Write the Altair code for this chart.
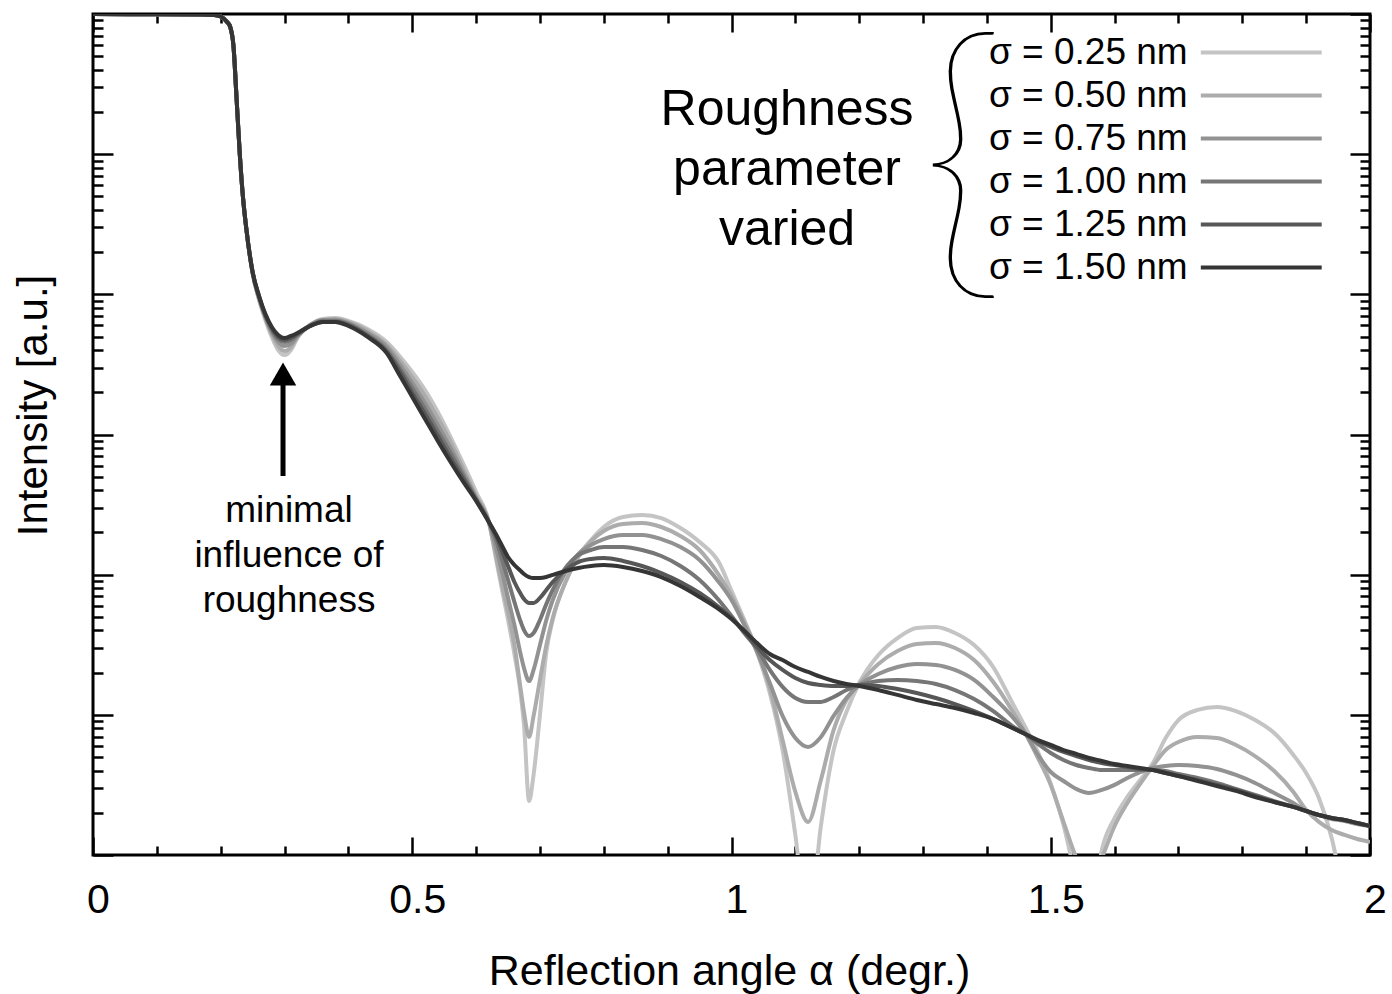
import altair as alt
import pandas as pd

# ---------------- data ----------------
angle = [0, 0.1, 0.17, 0.19, 0.2, 0.21, 0.215, 0.22, 0.225, 0.23, 0.235, 0.24,
         0.25, 0.26, 0.27, 0.28, 0.29, 0.30, 0.31, 0.32, 0.34, 0.36, 0.38, 0.40,
         0.43, 0.46, 0.48, 0.50, 0.52, 0.54, 0.56, 0.58, 0.60, 0.62,
         0.63, 0.64, 0.65, 0.66, 0.67, 0.675, 0.683, 0.69, 0.70, 0.71, 0.72, 0.74,
         0.76, 0.78, 0.80, 0.83, 0.86, 0.89, 0.92, 0.95, 0.98, 1.00, 1.02, 1.04,
         1.06, 1.08, 1.10, 1.12, 1.14, 1.16, 1.18, 1.20, 1.23, 1.26, 1.29, 1.32,
         1.35, 1.38, 1.41, 1.44, 1.46, 1.48, 1.50, 1.52, 1.54, 1.56, 1.58, 1.60,
         1.62, 1.64, 1.66, 1.68, 1.70, 1.73, 1.76, 1.79, 1.82, 1.85, 1.88, 1.90,
         1.92, 1.94, 1.96, 1.98, 2.00]

# log10 intensity, common to all roughness values (total reflection plateau and edge)
plateau = [0, -0.002, -0.004, -0.007, -0.018, -0.057, -0.093, -0.228, -0.614,
           -1.006, -1.313, -1.527]

log_I_025 = [-1.855, -2.040, -2.183, -2.304, -2.397, -2.433, -2.397, -2.312, -2.219, -2.176,
             -2.169, -2.190, -2.247, -2.340, -2.440, -2.554, -2.683, -2.839, -3.018, -3.210,
             -3.410, -3.624,
             -3.860, -4.095, -4.323, -4.566, -4.858, -5.072, -5.615, -5.429, -5.001, -4.552,
             -4.323, -4.052, -3.867, -3.753, -3.660, -3.589, -3.574, -3.596, -3.667, -3.767,
             -3.910, -4.116, -4.323, -4.552, -4.844, -5.251, -5.857, -6.535, -5.793, -5.251,
             -4.980, -4.773, -4.573, -4.452, -4.380, -4.373, -4.416, -4.502, -4.659, -4.916,
             -5.087, -5.265, -5.493, -5.786, -6.178, -6.535, -5.964, -5.736, -5.586, -5.465,
             -5.344, -5.165, -5.037, -4.965, -4.944, -4.973, -5.037, -5.130, -5.286, -5.415,
             -5.593, -5.879, -6.321, -6.749, -7.177]

log_I_050 = [-1.848, -2.033, -2.169, -2.283, -2.369, -2.404, -2.376, -2.304, -2.219, -2.183,
             -2.176, -2.197, -2.262, -2.361, -2.468, -2.590, -2.725, -2.882, -3.053, -3.246,
             -3.439, -3.624,
             -3.838, -4.060, -4.266, -4.502, -4.823, -4.980, -5.158, -5.008, -4.751, -4.502,
             -4.309, -4.052, -3.874, -3.760, -3.688, -3.638, -3.631, -3.660, -3.724, -3.824,
             -4.002, -4.152, -4.338, -4.537, -4.809, -5.179, -5.550, -5.764, -5.465, -5.108,
             -4.894, -4.780, -4.637, -4.545, -4.495, -4.487, -4.523, -4.609, -4.766, -4.973,
             -5.130, -5.308, -5.500, -5.764, -6.021, -6.214, -6.021, -5.793, -5.629, -5.493,
             -5.365, -5.251, -5.194, -5.158, -5.165, -5.215, -5.294, -5.401, -5.550, -5.679,
             -5.764, -5.822, -5.857, -5.886, -5.907]

log_I_075 = [-1.848, -2.026, -2.162, -2.269, -2.340, -2.369, -2.354, -2.297, -2.219, -2.183,
             -2.183, -2.205, -2.276, -2.376, -2.497, -2.633, -2.775, -2.932, -3.096, -3.275,
             -3.453, -3.624,
             -3.788, -3.967, -4.166, -4.359, -4.573, -4.666, -4.759, -4.680, -4.502, -4.323,
             -4.181, -3.981, -3.853, -3.788, -3.746, -3.717, -3.717, -3.746, -3.803, -3.895,
             -4.052, -4.181, -4.359, -4.552, -4.773, -5.008, -5.165, -5.229, -5.158, -5.008,
             -4.880, -4.787, -4.709, -4.659, -4.637, -4.644, -4.680, -4.751, -4.873, -5.015,
             -5.130, -5.286, -5.408, -5.472, -5.529, -5.558, -5.536, -5.500, -5.451, -5.408,
             -5.379, -5.365, -5.358, -5.365, -5.386, -5.429, -5.486, -5.558, -5.629, -5.686,
             -5.715, -5.743, -5.757, -5.779, -5.793]

log_I_100 = [-1.841, -2.019, -2.155, -2.254, -2.319, -2.340, -2.326, -2.290, -2.226, -2.190,
             -2.190, -2.212, -2.290, -2.397, -2.526, -2.668, -2.818, -2.975, -3.132, -3.296,
             -3.460, -3.624,
             -3.738, -3.881, -4.038, -4.195, -4.338, -4.395, -4.438, -4.416, -4.323, -4.209,
             -4.109, -3.952, -3.860, -3.824, -3.803, -3.803, -3.824, -3.867, -3.938, -4.038,
             -4.181, -4.295, -4.416, -4.530, -4.680, -4.801, -4.880, -4.908, -4.908, -4.873,
             -4.823, -4.787, -4.759, -4.751, -4.759, -4.780, -4.823, -4.887, -4.973, -5.080,
             -5.137, -5.208, -5.272, -5.322, -5.358, -5.379, -5.394, -5.394, -5.394, -5.394,
             -5.394, -5.401, -5.422, -5.451, -5.486, -5.529, -5.572, -5.615, -5.657, -5.686,
             -5.715, -5.736, -5.750, -5.772, -5.793]

log_I_125 = [-1.841, -2.012, -2.147, -2.240, -2.304, -2.326, -2.312, -2.283, -2.226, -2.197,
             -2.197, -2.219, -2.297, -2.411, -2.547, -2.704, -2.854, -3.011, -3.168, -3.317,
             -3.467, -3.624,
             -3.710, -3.824, -3.938, -4.052, -4.138, -4.174, -4.202, -4.202, -4.166, -4.109,
             -4.052, -3.967, -3.910, -3.888, -3.881, -3.902, -3.938, -3.988, -4.052, -4.131,
             -4.231, -4.309, -4.409, -4.516, -4.609, -4.680, -4.737, -4.773, -4.787, -4.794,
             -4.794, -4.787, -4.794, -4.816, -4.844, -4.880, -4.923, -4.973, -5.030, -5.094,
             -5.137, -5.187, -5.229, -5.265, -5.294, -5.322, -5.344, -5.358, -5.372, -5.386,
             -5.394, -5.415, -5.436, -5.465, -5.500, -5.536, -5.579, -5.622, -5.657, -5.686,
             -5.715, -5.736, -5.750, -5.772, -5.793]

log_I_150 = [-1.841, -2.012, -2.140, -2.233, -2.290, -2.312, -2.297, -2.276, -2.226, -2.197,
             -2.197, -2.226, -2.304, -2.419, -2.575, -2.732, -2.889, -3.046, -3.196, -3.339,
             -3.474, -3.624,
             -3.703, -3.788, -3.874, -3.931, -3.974, -3.995, -4.017, -4.024, -4.024, -4.017,
             -4.002, -3.974, -3.952, -3.938, -3.931, -3.945, -3.974, -4.017, -4.081, -4.159,
             -4.245, -4.316, -4.400, -4.488, -4.566, -4.609, -4.659, -4.694, -4.730, -4.759,
             -4.780, -4.794, -4.823, -4.858, -4.894, -4.923, -4.951, -4.987, -5.030, -5.094,
             -5.137, -5.180, -5.215, -5.251, -5.279, -5.308, -5.329, -5.351, -5.365, -5.379,
             -5.394, -5.415, -5.436, -5.472, -5.508, -5.543, -5.586, -5.622, -5.657, -5.686,
             -5.715, -5.736, -5.750, -5.772, -5.793]

series_labels = ["σ = 0.25 nm", "σ = 0.50 nm", "σ = 0.75 nm",
                 "σ = 1.00 nm", "σ = 1.25 nm", "σ = 1.50 nm"]
series_colors = ["#c4c4c4", "#acacac", "#929292", "#767676", "#575757", "#353535"]
series_logs = [log_I_025, log_I_050, log_I_075, log_I_100, log_I_125, log_I_150]

rows = []
for lab, vals in zip(series_labels, series_logs):
    full = plateau + vals
    assert len(full) == len(angle), (lab, len(full), len(angle))
    for a, v in zip(angle, full):
        rows.append({"angle": a, "intensity": 10 ** v, "series": lab})
df = pd.DataFrame(rows)

# annotations (data coordinates; first text line is anchored)
note_main = pd.DataFrame([{"angle": 1.087, "intensity": 10 ** -0.685,
                           "text": "Roughness\nparameter\nvaried"}])
note_min = pd.DataFrame([{"angle": 0.307, "intensity": 10 ** -3.546,
                          "text": "minimal\ninfluence of\nroughness"}])
brace = pd.DataFrame([{"angle": 1.362, "intensity": 10 ** -1.106, "text": "{"}])
arrow_shaft = pd.DataFrame([{"angle": 0.2976, "top": 10 ** -2.647, "bottom": 10 ** -3.296}])
arrow_head = pd.DataFrame([{"angle": 0.2976, "intensity": 10 ** -2.568}])

# ---------------- scales / ticks ----------------
W, H = 1277, 841
FONT = "Liberation Sans"
x_scale = alt.Scale(domain=[0, 2], nice=False, zero=False)
y_scale = alt.Scale(type="log", domain=[1e-6, 1], nice=False)

x_ticks = [round(0.1 * i, 1) for i in range(21)]
x_major = "abs(datum.value*2 - round(datum.value*2)) < 0.001"
y_ticks = [float(f"{m}e{k}") for k in range(-6, 0) for m in range(1, 10)] + [1.0]
y_major = "abs(log(datum.value)/LN10 - round(log(datum.value)/LN10)) < 0.001"


def x_tick_axis(orient):
    return alt.Axis(orient=orient, offset=-H, values=x_ticks, labels=False, domain=False,
                    grid=False, title=None, tickColor="black", tickWidth=2.5,
                    tickSize={"condition": {"test": x_major, "value": 18}, "value": 9})


def y_tick_axis(orient):
    return alt.Axis(orient=orient, offset=-W, values=y_ticks, labels=False, domain=False,
                    grid=False, title=None, tickColor="black", tickWidth=2.5,
                    tickSize={"condition": {"test": y_major, "value": 20}, "value": 10})


# legend sample line drawn to the right of the label (custom symbol path)
legend_line = "M12.17,0H18.37"

lines = alt.Chart(df).mark_line(strokeWidth=4, interpolate="monotone", clip=True).encode(
    x=alt.X("angle:Q", scale=x_scale,
            axis=alt.Axis(orient="bottom", values=[0, 0.5, 1, 1.5, 2], format="~g",
                          ticks=False, tickSize=0, domain=False, grid=False,
                          labelFont=FONT, labelFontSize=41, labelColor="black",
                          labelBaseline="alphabetic", labelPadding=57, labelFlush=False,
                          labelOffset=5,
                          title="Reflection angle α (degr.)", titleFont=FONT,
                          titleFontSize=43, titleFontWeight="normal", titleColor="black",
                          titleX=636, titleY=129, titleBaseline="alphabetic")),
    y=alt.Y("intensity:Q", scale=y_scale,
            axis=alt.Axis(orient="left", labels=False, ticks=False, tickSize=0,
                          domain=False, grid=False, title="Intensity [a.u.]",
                          titleFont=FONT, titleFontSize=42, titleFontWeight="normal",
                          titleColor="black", titleAngle=270, titleX=-60, titleY=391,
                          titleBaseline="middle", titleAlign="center")),
    color=alt.Color("series:N",
                    scale=alt.Scale(domain=series_labels, range=series_colors),
                    legend=alt.Legend(title=None, orient="none", legendX=849, legendY=17,
                                      labelFont=FONT, labelFontSize=37, labelColor="black",
                                      symbolType=legend_line, symbolSize=1521,
                                      symbolStrokeWidth=4, rowPadding=3,
                                      padding=0, labelLimit=0)),
    detail="series:N",
)

text_main = alt.Chart(note_main).mark_text(
    font=FONT, fontSize=50, lineHeight=60, align="center", baseline="middle",
    color="black", lineBreak="\n").encode(
    x=alt.X("angle:Q", scale=x_scale, axis=x_tick_axis("top")),
    y=alt.Y("intensity:Q", scale=y_scale, axis=y_tick_axis("right")),
    text="text:N")

text_min = alt.Chart(note_min).mark_text(
    font=FONT, fontSize=37, lineHeight=45, align="center", baseline="middle",
    color="black", lineBreak="\n").encode(
    x=alt.X("angle:Q", scale=x_scale, axis=x_tick_axis("bottom")),
    y=alt.Y("intensity:Q", scale=y_scale, axis=y_tick_axis("left")),
    text="text:N")

brace_mark = alt.Chart(brace).mark_text(
    font="Lato", fontWeight=100, fontSize=305, align="center", baseline="middle",
    color="black").encode(
    x=alt.X("angle:Q", scale=x_scale, axis=None),
    y=alt.Y("intensity:Q", scale=y_scale, axis=None),
    text="text:N")

shaft = alt.Chart(arrow_shaft).mark_rule(strokeWidth=5, color="black").encode(
    x=alt.X("angle:Q", scale=x_scale, axis=None),
    y=alt.Y("top:Q", scale=y_scale, axis=None),
    y2="bottom:Q")

head = alt.Chart(arrow_head).mark_point(shape="triangle-up", size=700, filled=True,
                                        color="black", opacity=1).encode(
    x=alt.X("angle:Q", scale=x_scale, axis=None),
    y=alt.Y("intensity:Q", scale=y_scale, axis=None))

chart = alt.layer(lines, text_main, text_min, brace_mark, shaft, head).resolve_axis(
    x="independent", y="independent"
).properties(
    width=W, height=H,
    autosize=alt.AutoSizeParams(type="none"),
    padding={"left": 93, "top": 14, "right": 22, "bottom": 139},
    background="white",
).configure_view(
    stroke="black", strokeWidth=3
)

chart.save("out.html", embed_options={"renderer": "svg", "actions": False})
